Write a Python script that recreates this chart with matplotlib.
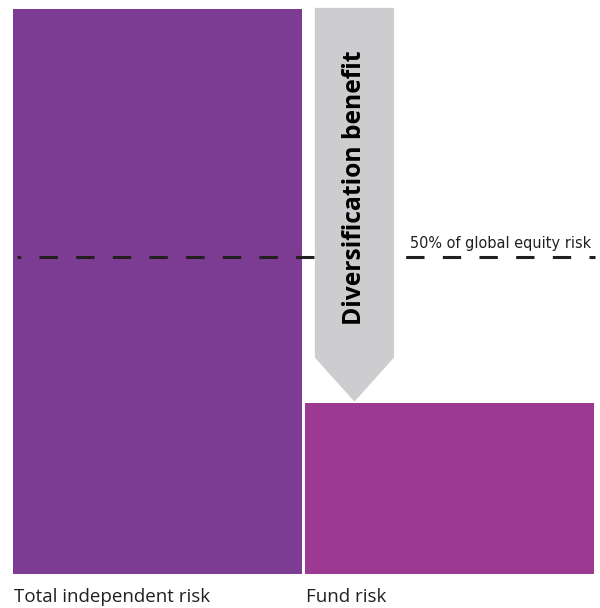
import numpy as np
import matplotlib
matplotlib.use("Agg")
import matplotlib.pyplot as plt
from matplotlib.patches import Polygon

# data
categories = ["Total independent risk", "Fund risk"]
risk_values = [100.0, 30.3]
equity_line = 56.1
equity_label = "50% of global equity risk"
arrow_label = "Diversification benefit"

bar_colors = ["#7d3c93", "#9c3a93"]
arrow_color = "#cdcdcf"

fig = plt.figure(figsize=(6.0, 6.08), dpi=100)
# axes box in figure fractions: left 13px, right 594px, baseline 574px, top 9px
ax = fig.add_axes([13 / 600, 34 / 608, 581 / 600, 565 / 608])
ax.set_xlim(-0.495, 1.495)
ax.set_ylim(0, 100)
ax.axis("off")

x = np.arange(len(categories))
ax.bar(x, risk_values, width=0.99, color=bar_colors, zorder=1)

# dashed 50% line (behind the arrow)
ax.plot([-0.481, 1.498], [equity_line, equity_line], color="#231f20", lw=2.2,
        linestyle=(4.8, (6, 6)), clip_on=False, zorder=2)
ax.text(0.865, equity_line + 1.0, equity_label, ha="left", va="bottom",
        fontsize=11.6, family="DejaVu Sans", fontstretch="condensed", color="#231f20")

# arrow from total risk down to fund risk
ax_l, ax_r = 0.539, 0.810
mid = (ax_l + ax_r) / 2
tip = risk_values[1] + 0.2
head = 7.8
arrow = Polygon([(ax_l, risk_values[0] + 0.2), (ax_r, risk_values[0] + 0.2), (ax_r, tip + head),
                 (mid, tip), (ax_l, tip + head)], closed=True, facecolor=arrow_color,
                edgecolor="none", clip_on=False, zorder=3)
ax.add_patch(arrow)
ax.text(mid, 68.4, arrow_label, rotation=90, ha="center", va="center",
        fontsize=17.7, fontweight="bold", family="Open Sans", color="black", zorder=4)

# category labels under the bars
for xi, lab in zip(x, categories):
    ax.text(xi - 0.49, -2.4, lab, ha="left", va="top", fontsize=13.5, family="Open Sans",
            color="#231f20")

fig.savefig("out.png", dpi=100)
